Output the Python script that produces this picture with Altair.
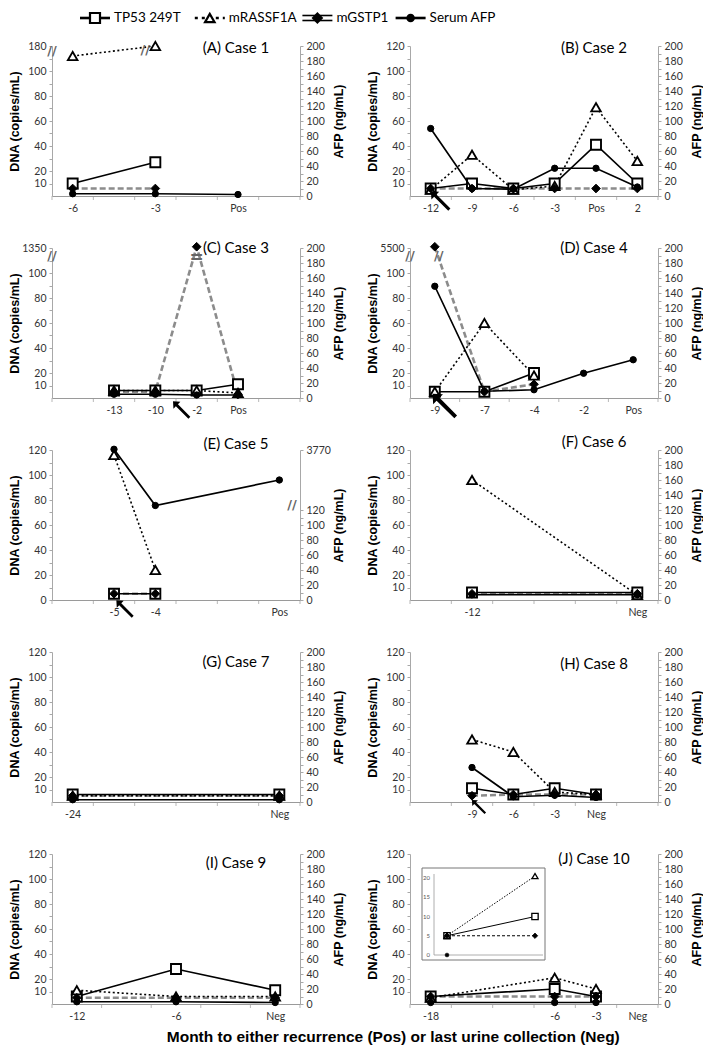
import altair as alt
import pandas as pd

SERIES = ["TP53 249T", "mRASSF1A", "mGSTP1", "Serum AFP"]
XTITLE = "Month to either recurrence (Pos) or last urine collection (Neg)"
DNA_TICKS = [10, 20, 40, 60, 80, 100, 120]
AFP_TICKS = [0, 20, 40, 60, 80, 100, 120, 140, 160, 180, 200]

# (A) Case 1
A_CATS = ["-6", "", "-3", "", "Pos", ""]
A_X = ["-6", "-3", "Pos"]
A_TP53 = [10, 27, None]
A_RASSF = [112, 120, None]
A_GSTP = [6, 6, None]
A_AFP = [3, 3, 2]
# (B) Case 2
B_CATS = ["-12", "-9", "-6", "-3", "Pos", "2"]
B_X = ["-12", "-9", "-6", "-3", "Pos", "2"]
B_TP53 = [6, 10, 6, 10, 41, 10]
B_RASSF = [5, 33, 5, 8, 71, 28]
B_GSTP = [6, 6, 6, 6, 6, 6]
B_AFP = [90, 10, 9, 37, 37, 12]
# (C) Case 3
C_CATS = ["", "-13", "-10", "-2", "Pos", ""]
C_X = ["-13", "-10", "-2", "Pos"]
C_TP53 = [6, 6, 6, 11]
C_RASSF = [6, 6, 6, 4]
C_GSTP = [5, 5, 121, 3]
C_AFP = [5, 5, 4, 4]
# (D) Case 4
D_CATS = ["-9", "-7", "-4", "-2", "Pos"]
D_X = ["-9", "-7", "-4", "-2", "Pos"]
D_TP53 = [5, 5, 20, None, None]
D_RASSF = [5, 60, 18, None, None]
D_GSTP = [121, 5, 11, None, None]
D_AFP = [149, 9, 11, 33, 51]
# (E) Case 5
E_CATS = ["", "-5", "-4", "", "", "Pos"]
E_X = ["-5", "-4", "Pos"]
E_TP53 = [5, 5, None]
E_RASSF = [116, 24, None]
E_GSTP = [5, 5, None]
E_AFP = [201, 126, 160]
# (F) Case 6
F_CATS = ["", "-12", "", "", "", "Neg"]
F_X = ["-12", "Neg"]
F_TP53 = [6, 6]
F_RASSF = [96, 4]
F_GSTP = [5, 5]
F_AFP = [7, 7]
# (G) Case 7
G_CATS = ["-24", "", "", "", "", "Neg"]
G_X = ["-24", "Neg"]
G_TP53 = [6, 6]
G_RASSF = [5, 5]
G_GSTP = [5, 5]
G_AFP = [3, 3]
# (H) Case 8
H_CATS = ["", "-9", "-6", "-3", "Neg", ""]
H_X = ["-9", "-6", "-3", "Neg"]
H_TP53 = [11, 6, 11, 6]
H_RASSF = [50, 40, 8, 6]
H_GSTP = [5, 6, 6, 6]
H_AFP = [46, 7, 9, 6]
# (I) Case 9
I_CATS = ["-12", "", "-6", "", "Neg"]
I_X = ["-12", "-6", "Neg"]
I_TP53 = [6, 28, 11]
I_RASSF = [11, 6, 6]
I_GSTP = [5, 5, 5]
I_AFP = [3, 3, 2]
# (J) Case 10
J_CATS = ["-18", "", "", "-6", "-3", "Neg"]
J_X = ["-18", "-6", "-3"]
J_TP53 = [6, 12, 6]
J_RASSF = [5, 21, 12]
J_GSTP = [6, 6, 6]
J_AFP = [2, 2, 2]
# inset of (J)
JI_X = ["-18", "-6"]
JI_TP53 = [5, 10]
JI_RASSF = [5, 20.5]
JI_GSTP = [5, 5]
JI_AFP = [0, None]
JI_TICKS = [0, 5, 10, 15, 20]

W, H = 248, 150
LBL_FONT = "Lato"
TTL_FONT = "Liberation Sans"
ARROW = "M-1,-1L-0.15,-0.95L-0.43,-0.67L1,0.78L0.78,1L-0.67,-0.43L-0.95,-0.15Z"

ST = {
    "TP53 249T": dict(color="black", width=1.7, dash=None, shape="square", fill="white", size=100, sw=1.9),
    "mRASSF1A": dict(color="black", width=1.6, dash=[2, 2.5], shape="triangle-up", fill="white", size=90, sw=1.9),
    "mGSTP1": dict(color="#8c8c8c", width=2.6, dash=[6, 3], shape="diamond", fill="black", size=75, sw=1),
    "Serum AFP": dict(color="black", width=1.7, dash=None, shape="circle", fill="black", size=40, sw=1),
}

PANELS = [
    dict(title="(A) Case 1", cats=A_CATS, x=A_X, tp53=A_TP53, rassf=A_RASSF, gstp=A_GSTP, afp=A_AFP,
         tdy=2, left_top="180", breaks=[("L", 116, "//", 0), ("-3", 117, "//", -10)], legend=True),
    dict(title="(B) Case 2", cats=B_CATS, x=B_X, tp53=B_TP53, rassf=B_RASSF, gstp=B_GSTP, afp=B_AFP,
         tdy=2, arrows=[("-12", 10, 5, 380)]),
    dict(title="(C) Case 3", cats=C_CATS, x=C_X, tp53=C_TP53, rassf=C_RASSF, gstp=C_GSTP, afp=C_AFP,
         tdy=0, left_top="1350", breaks=[("L", 114, "//", 0), ("-2", 112, "=", 0)], arrows=[("-2", -15, 12, 300)]),
    dict(title="(D) Case 4", cats=D_CATS, x=D_X, tp53=D_TP53, rassf=D_RASSF, gstp=D_GSTP, afp=D_AFP,
         tdy=0, left_top="5500", breaks=[("L", 114, "//", 0), ("-9", 114, "//", 4)], arrows=[("-9", 10, 8, 600)]),
    dict(title="(E) Case 5", cats=E_CATS, x=E_X, tp53=E_TP53, rassf=E_RASSF, gstp=E_GSTP, afp=E_AFP,
         tdy=-6, left_zero=True, right_top="3770", breaks=[("R", 127, "//", -8)], arrows=[("-5", 11, 9, 300)]),
    dict(title="(F) Case 6", cats=F_CATS, x=F_X, tp53=F_TP53, rassf=F_RASSF, gstp=F_GSTP, afp=F_AFP, tdy=-8),
    dict(title="(G) Case 7", cats=G_CATS, x=G_X, tp53=G_TP53, rassf=G_RASSF, gstp=G_GSTP, afp=G_AFP, tdy=10),
    dict(title="(H) Case 8", cats=H_CATS, x=H_X, tp53=H_TP53, rassf=H_RASSF, gstp=H_GSTP, afp=H_AFP,
         tdy=12, arrows=[("-9", 7, 5, 200)]),
    dict(title="(I) Case 9", cats=I_CATS, x=I_X, tp53=I_TP53, rassf=I_RASSF, gstp=I_GSTP, afp=I_AFP, tdy=9),
    dict(title="(J) Case 10", cats=J_CATS, x=J_X, tp53=J_TP53, rassf=J_RASSF, gstp=J_GSTP, afp=J_AFP,
         tdy=5, inset=True),
]


def uniq(cats):
    out, k = [], 0
    for c in cats:
        if c == "":
            k += 1
            out.append(" " * k)
        else:
            out.append(c)
    return out


def lab_expr(vals, labels):
    expr = "''"
    for v, t in zip(vals, labels):
        expr = f"datum.value === {v} ? '{t}' : {expr}"
    return expr


def long_df(xs, cols):
    rows = []
    for s, vals in cols:
        for i, (xv, v) in enumerate(zip(xs, vals)):
            if v is not None:
                rows.append({"s": s, "cat": xv, "v": v, "o": i})
    return pd.DataFrame(rows)


def line_layer(df, s, xenc, yenc, style=None):
    st = style or ST[s]
    kw = dict(color=st["color"], strokeWidth=st["width"])
    if st["dash"]:
        kw["strokeDash"] = st["dash"]
    return alt.Chart(df[df.s == s]).mark_line(**kw).encode(x=xenc, y=yenc, order="o:Q")


def point_layer(df, s, xenc, yenc, scale=1.0):
    st = ST[s]
    return alt.Chart(df[df.s == s]).mark_point(
        shape=st["shape"], size=st["size"] * scale, filled=True, fill=st["fill"],
        stroke="black", strokeWidth=st["sw"] * (1 if scale == 1 else 0.7), opacity=1
    ).encode(x=xenc, y=yenc)


def make_panel(p):
    cats = uniq(p["cats"])
    step = W / len(cats)
    df = long_df(p["x"], [("TP53 249T", p["tp53"]), ("mRASSF1A", p["rassf"]),
                          ("mGSTP1", p["gstp"]), ("Serum AFP", p["afp"])])
    xenc = alt.X("cat:O", scale=alt.Scale(type="point", domain=cats, padding=0.5),
                 axis=alt.Axis(title=None, labelAngle=0, ticks=False, labelOverlap=False,
                               domainColor="#9a9a9a", labelColor="#333", labelFont=LBL_FONT,
                               labelFontSize=10.5, labelPadding=7))
    if p.get("left_zero"):
        lvals = list(range(0, 121, 10))
        llab = [str(v) if v % 20 == 0 else "" for v in lvals]
    else:
        lvals = list(range(10, 121, 10))
        llab = [str(v) if v in DNA_TICKS else "" for v in lvals]
    if p.get("left_top"):
        llab[-1] = p["left_top"]
    if p.get("right_top"):
        rvals = list(range(0, 121, 10)) + [200]
        rlab = [str(v) if v % 20 == 0 else "" for v in rvals[:-1]] + [p["right_top"]]
    else:
        rvals = list(range(0, 201, 10))
        rlab = [str(v) if v in AFP_TICKS else "" for v in rvals]
    common = dict(grid=False, domainColor="#a8a8a8", tickColor="#a8a8a8", tickSize=3,
                  labelColor="#333", labelFont=LBL_FONT, labelFontSize=10.5, labelPadding=3,
                  titleFont=TTL_FONT, titleFontSize=12.5, titleFontWeight="bold", titleColor="black",
                  titleAngle=270, titleBaseline="middle", titleAlign="center", titleY=H / 2)
    yL = alt.Y("v:Q", scale=alt.Scale(domain=[0, 120], nice=False),
               axis=alt.Axis(orient="left", values=lvals, labelExpr=lab_expr(lvals, llab),
                             title="DNA (copies/mL)", titleX=-38, **common))
    yR = alt.Y("v:Q", scale=alt.Scale(domain=[0, 200], nice=False),
               axis=alt.Axis(orient="right", values=rvals, labelExpr=lab_expr(rvals, rlab),
                             title="AFP (ng/mL)", titleX=38, **common))

    dna = [line_layer(df, s, xenc, yL) for s in ["mGSTP1", "mRASSF1A", "TP53 249T"]]
    dna += [point_layer(df, s, xenc, yL) for s in ["TP53 249T", "mRASSF1A", "mGSTP1"]]
    afp = [line_layer(df, "Serum AFP", xenc, yR), point_layer(df, "Serum AFP", xenc, yR)]
    extra = []
    # category-boundary tick marks on the x axis (between categories)
    cdf = pd.DataFrame({"cat": cats})
    extra.append(alt.Chart(cdf).mark_tick(orient="vertical", size=4, thickness=1, color="#9a9a9a",
                                          xOffset=-step / 2).encode(x=xenc, y=alt.value(H + 2)))
    extra.append(alt.Chart(cdf.tail(1)).mark_tick(orient="vertical", size=4, thickness=1, color="#9a9a9a",
                                                  xOffset=step / 2).encode(x=xenc, y=alt.value(H + 2)))
    for where, val, glyph, dx in p.get("breaks", []):
        bdf = pd.DataFrame({"cat": [where], "v": [val], "g": [glyph]})
        tm = alt.Chart(bdf).mark_text(fontSize=13 if glyph == "//" else 17, color="#666",
                                      fontWeight="bold", dx=dx, font="DejaVu Sans")
        if where == "L":
            dna.append(tm.encode(x=alt.value(0), y=yL, text="g:N"))
        elif where == "R":
            afp.append(tm.encode(x=alt.value(W), y=yR, text="g:N"))
        else:
            dna.append(tm.encode(x=xenc, y=yL, text="g:N"))
    for cat, dx, dy, sz in p.get("arrows", []):
        adf = pd.DataFrame({"cat": [cat]})
        extra.append(alt.Chart(adf).mark_point(shape=ARROW, filled=True, color="black", size=sz,
                                               opacity=1, xOffset=dx, yOffset=dy)
                     .encode(x=xenc, y=alt.value(H)))
    tdf = pd.DataFrame({"t": [p["title"]]})
    extra.append(alt.Chart(tdf).mark_text(font=LBL_FONT, fontSize=15, color="black",
                                          align="center", baseline="middle")
                 .encode(text="t:N", x=alt.value(184), y=alt.value(p["tdy"])))
    main = alt.layer(alt.layer(*dna), alt.layer(*afp), *extra).resolve_scale(y="independent")
    if p.get("inset"):
        main = alt.layer(main, make_inset()).resolve_scale(x="independent", y="independent")
    if p.get("legend"):
        main = alt.layer(main, make_legend()).resolve_scale(x="independent")
    return main.properties(width=W, height=H)


def make_inset():
    idf = long_df(JI_X, [("TP53 249T", JI_TP53), ("mRASSF1A", JI_RASSF),
                         ("mGSTP1", JI_GSTP), ("Serum AFP", JI_AFP)])
    ix = alt.X("cat:O", scale=alt.Scale(type="point", domain=JI_X, padding=0, range=[37, 125]), axis=None)
    iy = alt.Y("v:Q", scale=alt.Scale(domain=[0, 20], range=[101, 24], nice=False), axis=None)
    one = pd.DataFrame({"a": [0]})
    frame = alt.Chart(one).mark_rect(fill="white", stroke="#777", strokeWidth=1).encode(
        x=alt.value(12), x2=alt.value(135), y=alt.value(14), y2=alt.value(106))
    ax1 = alt.Chart(one).mark_rule(color="#999", strokeWidth=0.8).encode(
        x=alt.value(24), y=alt.value(20), y2=alt.value(101))
    ax2 = alt.Chart(one).mark_rule(color="#999", strokeWidth=0.8).encode(
        x=alt.value(24), x2=alt.value(133), y=alt.value(101))
    small = dict(color="black", width=1.0)
    lines = [
        line_layer(idf, "mGSTP1", ix, iy, dict(small, dash=[3, 2])),
        line_layer(idf, "mRASSF1A", ix, iy, dict(small, dash=[1.5, 1.5])),
        line_layer(idf, "TP53 249T", ix, iy, dict(small, dash=None)),
    ]
    pts = [point_layer(idf, s, ix, iy, scale=0.4) for s in ["TP53 249T", "mRASSF1A", "mGSTP1"]]
    pts.append(point_layer(idf, "Serum AFP", ix, iy, scale=0.35))
    tdf = pd.DataFrame({"v": JI_TICKS, "lbl": [str(t) for t in JI_TICKS]})
    labels = alt.Chart(tdf).mark_text(fontSize=6, color="#555", align="right", font=LBL_FONT).encode(
        x=alt.value(20), y=iy, text="lbl:N")
    return alt.layer(frame, ax1, ax2, *lines, *pts, labels)


def make_legend():
    LY = -28
    bases, b = [], 28
    for s in SERIES:
        bases.append(b)
        b += 50 + 7.2 * len(s)
    ldf = pd.DataFrame({"s": SERIES, "x0": bases, "x1": [v + 30 for v in bases],
                        "xm": [v + 15 for v in bases], "xt": [v + 34 for v in bases]})
    lx = alt.Scale(domain=[0, W], nice=False)
    layers = []
    for s in SERIES:
        d = ldf[ldf.s == s]
        st = ST[s]
        if s == "mGSTP1":
            for yy in (LY - 2.5, LY + 2.5):
                layers.append(alt.Chart(d).mark_rule(color="black", strokeWidth=1.6).encode(
                    x=alt.X("x0:Q", scale=lx, axis=None), x2="x1:Q", y=alt.value(yy)))
        else:
            kw = dict(color="black", strokeWidth=2.6)
            if st["dash"]:
                kw["strokeDash"] = [3, 4]
            layers.append(alt.Chart(d).mark_rule(**kw).encode(
                x=alt.X("x0:Q", scale=lx, axis=None), x2="x1:Q", y=alt.value(LY)))
        layers.append(alt.Chart(d).mark_point(shape=st["shape"], size=st["size"], filled=True,
                                              fill=st["fill"], stroke="black", strokeWidth=2.2,
                                              opacity=1).encode(
            x=alt.X("xm:Q", scale=lx, axis=None), y=alt.value(LY)))
    layers.append(alt.Chart(ldf).mark_text(align="left", baseline="middle", fontSize=13.5,
                                           font=LBL_FONT, color="black").encode(
        x=alt.X("xt:Q", scale=lx, axis=None), y=alt.value(LY), text="s:N"))
    return alt.layer(*layers)


charts = [make_panel(p) for p in PANELS]
chart = alt.concat(*charts, columns=2, spacing=alt.RowColnumber(row=52, column=110), bounds="flush").properties(
    title=alt.TitleParams(XTITLE, orient="bottom", anchor="middle", font=TTL_FONT, fontSize=15.5,
                          fontWeight="bold", color="black", offset=8, dx=38),
    padding=0,
).configure_view(stroke=None)

chart.save("out.html", embed_options={"renderer": "svg", "actions": False})
